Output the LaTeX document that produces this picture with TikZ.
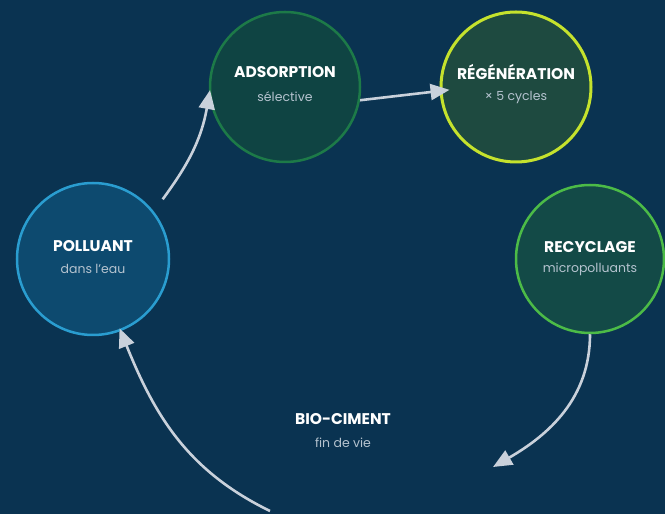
\documentclass[tikz,border=0pt]{standalone}
\usepackage{fontspec}
\setmainfont{Poppins}
\usetikzlibrary{arrows.meta}

\definecolor{bgnavy}{HTML}{0A3351}
\definecolor{polfill}{HTML}{0D4A6F}
\definecolor{polline}{HTML}{2A9DD0}
\definecolor{adsfill}{HTML}{0F4443}
\definecolor{adsline}{HTML}{1D7A48}
\definecolor{regfill}{HTML}{1E4A40}
\definecolor{regline}{HTML}{C5E22D}
\definecolor{recfill}{HTML}{134A47}
\definecolor{recline}{HTML}{4CBB47}
\definecolor{flowgray}{HTML}{C9D1DB}
\definecolor{subgray}{HTML}{B5C3CF}

\tikzset{
	stage/.style={circle, inner sep=0pt, minimum size=#1, line width=2.5pt},
	title/.style={text=white, font=\bfseries\fontsize{15.5}{18}\selectfont, inner sep=0pt},
	sub/.style={text=subgray, font=\fontsize{12.5}{15}\selectfont, inner sep=0pt},
	flow/.style={-{Triangle[length=19pt,width=16pt]}, flowgray, line width=2.6pt}
}

\begin{document}
\begin{tikzpicture}[x=1pt, y=1pt]
		\fill[bgnavy]	(0, 0) rectangle (665, 514);
		\useasboundingbox	(0, 0) rectangle (665, 514);

		% stages of the cycle
		\node[stage=152, draw=polline, fill=polfill]	(pol) at (93, 255) {};
		\node[stage=150, draw=adsline, fill=adsfill]	(ads) at (285, 427) {};
		\node[stage=150, draw=regline, fill=regfill, line width=3pt]	(reg) at (516, 427) {};
		\node[stage=148, draw=recline, fill=recfill]	(rec) at (590, 255) {};

		\node[title]	(polT) at ([yshift=13]pol.center) {POLLUANT};
		\node[sub]		(polS) at ([yshift=-10]pol.center) {dans l’eau};
		\node[title]	(adsT) at ([yshift=15]ads.center) {ADSORPTION};
		\node[sub]		(adsS) at ([yshift=-10]ads.center) {sélective};
		\node[title]	(regT) at ([yshift=15]reg.center) {RÉGÉNÉRATION};
		\node[sub]		(regS) at ([yshift=-10]reg.center) {× 5 cycles};
		\node[title]	(recT) at ([yshift=12]rec.center) {RECYCLAGE};
		\node[sub]		(recS) at ([yshift=-10]rec.center) {micropolluants};
		\node[title]	(bioT) at (343, 95) {BIO-CIMENT};
		\node[sub]		(bioS) at (343, 71) {fin de vie};

		\coordinate		(bioIn) at (493, 47);
		\coordinate		(bioOut) at (270, 3);

		% arrows
		\draw[flow, shorten <=15pt, shorten >=-5pt]	(pol.38) to[out=54, in=260] (ads.186);
		\draw[flow, shorten >=-10pt]	(ads.-10) to (reg.183);
		\draw[flow]	(rec.-90) to[out=-90, in=30] (bioIn);
		\draw[flow, shorten >=-3pt]	(bioOut) to[out=154, in=-68] (pol.-69);
	\end{tikzpicture}
\end{document}
